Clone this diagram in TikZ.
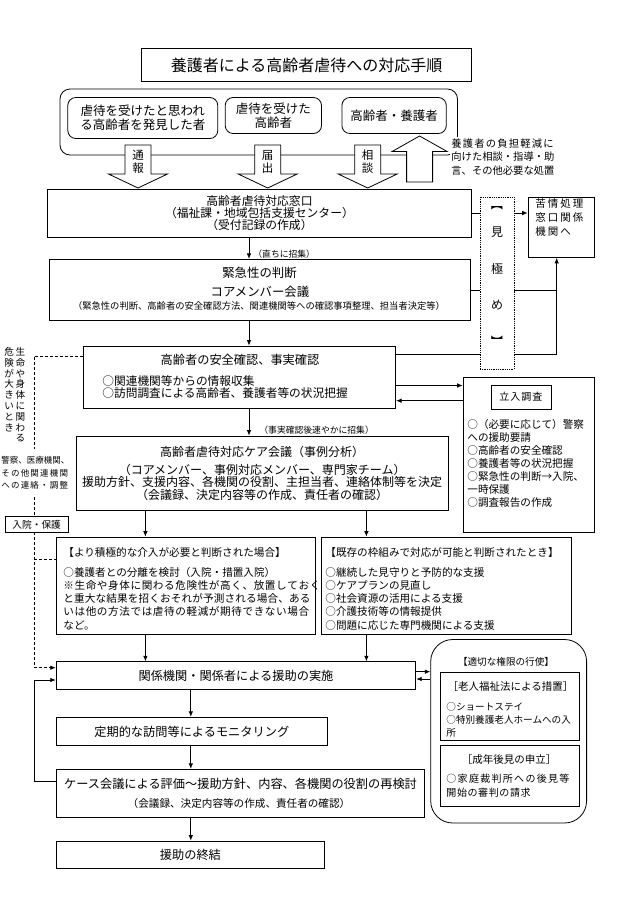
\documentclass[tikz,border=0pt]{standalone}
\usepackage{fontspec}
\setmainfont{Noto Sans CJK JP}
\usetikzlibrary{arrows.meta}
\newcommand\fsz[2]{\fontsize{#1}{#2}\selectfont}
\newcommand\lsp[2]{\def\lspk{#1}\lspi#2\relax}
\def\lspi#1{\ifx#1\relax\else#1\kern\lspk\relax\expandafter\lspi\fi}
\newcommand\DnArrow[3]{%
  \draw[fill=white] (#2-13,145) -- (#2+13,145) -- (#2+13,174) -- (#2+29.5,174) -- (#2,188) -- (#2-29.5,174) -- (#2-13,174) -- cycle;
  \node[font=\fsz{11.5}{13},align=center,inner sep=0pt] (#1) at (#2,162) {#3};}
\begin{document}
\begin{tikzpicture}[x=1pt,y=-1pt,line width=0.8pt,
  >={Latex[length=5.5pt,width=4.5pt]},
  box/.style={draw,fill=white,inner sep=0pt,align=center},
  txt/.style={inner sep=0pt,align=left,anchor=north west},
  font=\fsz{12.2}{12.6}]
\fill[white] (0,0) rectangle (630,903);
\useasboundingbox (0,0) rectangle (630,903);

% title
\node[box,minimum width=329.7,minimum height=33.4,font=\fsz{16}{16}] (title) at (306.6,65) {養護者による高齢者虐待への対応手順};

% sources group
\node[draw,rounded corners=10pt,minimum width=397.5,minimum height=66,inner sep=0pt] (grp) at (258.75,122) {};
\node[box,rounded corners=8pt,minimum width=150,minimum height=41,font=\fsz{12.5}{13.5}] (src1) at (142.8,118) {虐待を受けたと思われ\\る高齢者を発見した者};
\node[box,rounded corners=8pt,minimum width=96.3,minimum height=36,font=\fsz{12.5}{13.5}] (src2) at (273.35,115.5) {虐待を受けた\\高齢者};
\node[box,rounded corners=8pt,minimum width=104.4,minimum height=36,font=\fsz{12.5}{13.5}] (src3) at (394.1,115.5) {高齢者・養護者};

% reception
\node[box,minimum width=424.1,minimum height=48,font=\fsz{11.8}{12.3}] (recep) at (259.45,213) {高齢者虐待対応窓口\\（福祉課・地域包括支援センター）\\（受付記録の作成）};

% block arrows
\DnArrow{tsuho}{138}{通\\報}
\DnArrow{todoke}{267.7}{届\\出}
\DnArrow{sodan}{367.7}{相\\談}
\draw[fill=white] (406.6,182) -- (406.6,151.5) -- (392.1,151.5) -- (419.6,136) -- (447.1,151.5) -- (432.6,151.5) -- (432.6,182) -- cycle;
\node[fill=white,anchor=north west,inner sep=1pt,align=left,font=\fsz{10.3}{13.5}] (futan) at (450,137) {\lsp{1.2pt}{養護者の負担軽減に}\\向けた相談・指導・助\\言、その他必要な処置};

% complaint box
\node[box,minimum width=66.6,minimum height=60,anchor=north west] (kujo) at (527.7,197) {};
\node[txt,font=\fsz{10.5}{14}] (kujoT) at (535,198.5) {\lsp{2pt}{苦情処理}\\\lsp{2pt}{窓口関係}\\\lsp{2pt}{機関へ}};

% urgency
\node[box,minimum width=421,minimum height=61.4] (kinkyu) at (259.5,290) {};
\node[font=\fsz{12.4}{12.4},inner sep=0pt] (kinkyu1) at (259.5,273.3) {緊急性の判断};
\node[font=\fsz{12.4}{12.4},inner sep=0pt] (kinkyu2) at (260,291.7) {コアメンバー会議};
\node[font=\fsz{9.3}{9.3},inner sep=0pt] (kinkyu3) at (259,306) {（緊急性の判断、高齢者の安全確認方法、関連機関等への確認事項整理、担当者決定等）};

% safety confirmation
\node[box,minimum width=312.1,minimum height=62.3] (anzen) at (239.65,377.15) {};
\node[font=\fsz{12.2}{12.2},inner sep=0pt] (anzenT) at (240,360) {高齢者の安全確認、事実確認};
\node[txt,font=\fsz{11.7}{11.9},anchor=west] (anzenL) at (102,387.5) {○関連機関等からの情報収集\\○訪問調査による高齢者、養護者等の状況把握};

% on-site investigation
\node[box,minimum width=131.3,minimum height=154.4,anchor=north west] (tachi) at (462.7,377.3) {};
\node[box,minimum width=59.3,minimum height=24,font=\fsz{10}{10}] (tachiL) at (521.35,397) {\lsp{1pt}{立入調査}};
\node[txt,font=\fsz{10.6}{13}] (tachiT) at (467,419.5) {○（必要に応じて）警察\\への援助要請\\○高齢者の安全確認\\○養護者等の状況把握\\○緊急性の判断→入院、\\一時保護\\○調査報告の作成};

% care meeting
\node[box,minimum width=371.7,minimum height=74.7,font=\fsz{12}{12.6}] (care) at (262.15,473.35) {高齢者虐待対応ケア会議（事例分析）\\[5pt]（コアメンバー、事例対応メンバー、専門家チーム）\\援助方針、支援内容、各機関の役割、主担当者、連絡体制等を決定\\（会議録、決定内容等の作成、責任者の確認）};

% two branches
\node[box,minimum width=259.2,minimum height=97.3,anchor=north west] (sekkyoku) at (56.2,536.7) {};
\node[txt,font=\fsz{10.6}{13.3}] (sekkyokuT) at (63,546.7) {【より積極的な介入が必要と判断された場合】\\[6.7pt]○養護者との分離を検討（入院・措置入院）\\\lsp{0.6pt}{※生命や身体に関わる危険性が高く、放置しておく}\\\lsp{0.15pt}{と重大な結果を招くおそれが予測される場合、ある}\\\lsp{0.6pt}{いは他の方法では虐待の軽減が期待できない場合}\\など。};
\node[box,minimum width=249.1,minimum height=97.3,anchor=north west] (kizon) at (321.4,536.7) {};
\node[txt,font=\fsz{10.6}{13.3}] (kizonT) at (325,546.7) {【既存の枠組みで対応が可能と判断されたとき】\\[6.7pt]○継続した見守りと予防的な支援\\○ケアプランの見直し\\○社会資源の活用による支援\\○介護技術等の情報提供\\○問題に応じた専門機関による支援};

% lower flow
\node[box,minimum width=359.6,minimum height=27.6] (enjo) at (236,675.5) {関係機関・関係者による援助の実施};
\node[box,minimum width=271.2,minimum height=28.4] (monitor) at (191.8,731.5) {定期的な訪問等によるモニタリング};
\node[box,minimum width=367.7,minimum height=48] (case) at (240.05,793.3) {};
\node[font=\fsz{12.2}{12.2},inner sep=0pt] (caseT1) at (240.5,783.5) {ケース会議による評価～援助方針、内容、各機関の役割の再検討};
\node[font=\fsz{10.6}{10.6},inner sep=0pt] (caseT2) at (239,803.3) {（会議録、決定内容等の作成、責任者の確認）};
\node[box,minimum width=268.4,minimum height=27.3] (owari) at (190.4,854.65) {援助の終結};

% authority box
\node[draw,rounded corners=22pt,minimum width=155.9,minimum height=183.5,inner sep=0pt] (kengen) at (508.65,731.25) {};
\node[font=\fsz{9.6}{9.6},inner sep=0pt] (kengenH) at (506,661.7) {【適切な権限の行使】};
\node[box,minimum width=138.6,minimum height=67.3] (kengen1) at (510,706.35) {};
\node[font=\fsz{10.5}{10.5},inner sep=0pt] (kengen1H) at (510.5,686.7) {［老人福祉法による措置］};
\node[txt,font=\fsz{9.6}{13.3}] (kengen1L) at (446,701.9) {○ショートステイ\\○特別養護老人ホームへの入\\所};
\node[box,minimum width=138.6,minimum height=61.4] (kengen2) at (510,776) {};
\node[font=\fsz{10.5}{10.5},inner sep=0pt] (kengen2H) at (509,759.3) {［成年後見の申立］};
\node[txt,font=\fsz{10}{14.4}] (kengen2L) at (446,773.3) {\lsp{1.3pt}{○家庭裁判所への後見等}\\\lsp{0.6pt}{開始の審判の請求}};

% helper coordinates
\coordinate (xm) at (249,0);
\coordinate (xa) at (145.4,0);
\coordinate (xb) at (366.4,0);
\coordinate (xm2) at (190.8,0);
\coordinate (vx) at (556.7,0);
\coordinate (xl) at (34.4,0);
\coordinate (c1) at (0,354.3);
\coordinate (c2) at (0,385.5);
\coordinate (c3) at (0,400.7);
\coordinate (c4) at (0,671.7);
\coordinate (c5) at (0,679);
\coordinate (c6) at (0,356);
\coordinate (c7) at (0,667.7);
\coordinate (c8) at (0,559.3);
\coordinate (c9) at (0,781.7);
\coordinate (c10) at (0,680);

% connectors
\draw[->] (recep.east) -- (kujo.west |- recep.east);
\draw (kinkyu.east) -- (vx |- kinkyu.east);
\draw[->] (anzen.east |- c1) -- (vx |- c1) -- (vx |- kujo.south);
\draw[->] (anzen.east |- c2) -- (tachi.west |- c2);
\draw[<-] (anzen.east |- c3) -- (tachi.west |- c3);
\draw[->] (recep.south -| xm) -- (kinkyu.north -| xm);
\node[anchor=west,font=\fsz{8.8}{8.8},inner sep=0pt] (lab1) at (253,254.5) {（直ちに招集）};
\draw[->] (kinkyu.south -| xm) -- (anzen.north -| xm);
\draw[->] (anzen.south -| xm) -- (care.north -| xm);
\node[anchor=west,font=\fsz{8.8}{8.8},inner sep=0pt] (lab2) at (259,430) {（事実確認後速やかに招集）};
\draw[->] (care.south -| xa) -- (sekkyoku.north -| xa);
\draw[->] (care.south -| xb) -- (kizon.north -| xb);
\draw[->] (sekkyoku.south -| xa) -- (enjo.north -| xa);
\draw[->] (kizon.south -| xb) -- (enjo.north -| xb);
\draw[->] (enjo.south -| xm2) -- (monitor.north -| xm2);
\draw[->] (monitor.south -| xm2) -- (case.north -| xm2);
\draw[->] (case.south -| xm2) -- (owari.north -| xm2);
\draw[->] (enjo.east |- c4) -- (kengen.west |- c4);
\draw[<-] (enjo.east |- c5) -- (kengen.west |- c5);
\draw[dashed,dash pattern=on 3pt off 2pt,->] (anzen.west |- c6) -- (xl |- c6) -- (xl |- c7) -- (enjo.west |- c7);
\draw[dashed,dash pattern=on 3pt off 2pt] (xl |- c8) -- (sekkyoku.west |- c8);
\draw[->] (case.west |- c9) -- (xl |- c9) -- (xl |- c10) -- (enjo.west |- c10);

% judgement box (drawn over the lines)
\node[draw,densely dotted,fill=white,minimum width=34,minimum height=171.7,inner sep=0pt] (miki) at (497,283.15) {};
\node[rotate=-90,inner sep=0pt,font=\fsz{12}{12}] (mikiA) at (497,204) {【};
\node[inner sep=0pt,font=\fsz{12}{12}] (miki1) at (497,232) {見};
\node[inner sep=0pt,font=\fsz{12}{12}] (miki2) at (497,268.5) {極};
\node[inner sep=0pt,font=\fsz{12}{12}] (miki3) at (497,305) {め};
\node[rotate=-90,inner sep=0pt,font=\fsz{12}{12}] (mikiB) at (497,341) {】};

% left side notes
\node[inner sep=0pt,align=center,anchor=north,font=\fsz{9.6}{10.8}] (vtR) at (20.5,347) {生\\命\\や\\身\\体\\に\\関\\わ\\る};
\node[inner sep=0pt,align=center,anchor=north,font=\fsz{9.6}{10.8}] (vtL) at (9.3,347) {危\\険\\が\\大\\き\\い\\と\\き};
\node[fill=white,anchor=north west,inner xsep=0pt,inner ysep=7pt,align=left,font=\fsz{8.5}{12.5}] (keisatsu) at (1,449) {警察、医療機関、\\\lsp{1.2pt}{その他関連機関}\\\lsp{1.2pt}{への連絡・調整}};
\node[box,minimum width=63.3,minimum height=16,font=\fsz{9.7}{9.7}] (nyuin) at (36.65,524.7) {入院・保護};
\end{tikzpicture}
\end{document}
